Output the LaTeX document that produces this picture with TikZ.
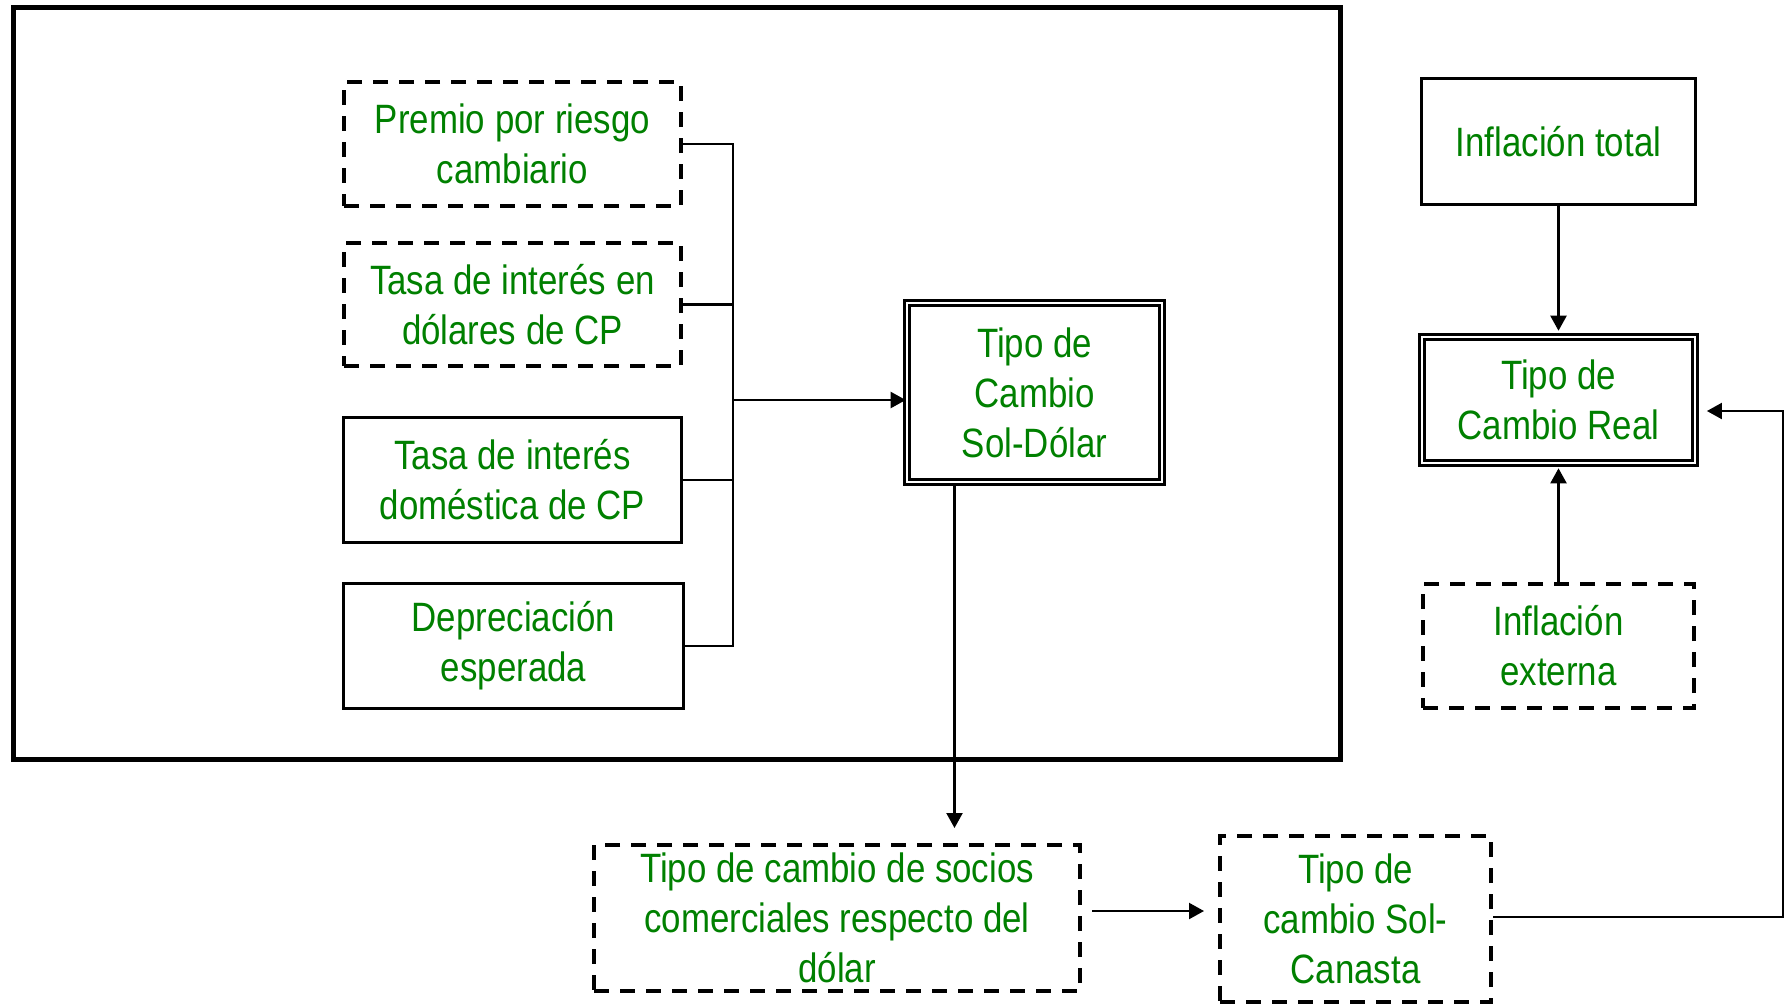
\documentclass[tikz,border=0pt]{standalone}
\usepackage{fontspec}
\setmainfont{Liberation Sans}[FakeStretch=0.85]
\usepackage{tikz}
\usetikzlibrary{calc,arrows.meta}
\definecolor{txtgreen}{RGB}{0,128,0}

\tikzset{
	box/.style={rectangle, align=center, text=txtgreen, inner sep=0pt,
		font=\fontsize{20.5}{25}\selectfont},
	solidbox/.style={box, draw, line width=1.5pt},
	dashbox/.style={box, draw, line width=2pt, dash pattern=on 7.5pt off 5.5pt},
	dblbox/.style={box, draw, double, line width=1.3pt, double distance=1.4pt},
	link/.style={line width=1.1pt},
	arr/.style={link, -{Triangle[length=7.5pt,width=8pt]}}
}

\begin{document}
\begin{tikzpicture}[x=0.5pt, y=-0.5pt]
				\useasboundingbox (0,0) rectangle (1784,1003);
				%big frame round the Sol-Dolar block
				\draw[line width=2.5pt] (13.5,7.5) rectangle (1340.5,759.5);

				%left column placed by hand
				\node[dashbox, minimum width=168.5pt, minimum height=62pt] (premio) at (512.5,144) {Premio por riesgo\\cambiario};
				\node[dashbox, minimum width=168.5pt, minimum height=61.5pt] (dolares) at (512.5,304.5) {Tasa de interés en\\dólares de CP};
				\node[solidbox, minimum width=169pt, minimum height=62.5pt] (domestica) at (512.5,480) {Tasa de interés\\doméstica de CP};
				\node[solidbox, minimum width=170pt, minimum height=62.5pt] (deprec) at (513.5,646) {Depreciación\\esperada};

				\node[dblbox, minimum width=127.5pt, minimum height=89.5pt] (soldolar) at (1034.5,392.5) {Tipo de\\Cambio\\Sol-Dólar};

				%bottom row
				\node[dashbox, minimum width=243pt, minimum height=73pt] (socios) at (837,918) {Tipo de cambio de socios\\comerciales respecto del\\dólar};
				\node[dashbox, minimum width=135.5pt, minimum height=83pt] (canasta) at (1355.5,919) {Tipo de\\cambio Sol-\\Canasta};

				%right column
				\node[solidbox, minimum width=137pt, minimum height=63pt] (inftotal) at (1558.5,141.5) {Inflación total};
				\node[dblbox, minimum width=136.5pt, minimum height=63pt] (real) at (1558.5,400) {Tipo de\\Cambio Real};
				\node[dashbox, minimum width=135.5pt, minimum height=62pt] (infext) at (1558.5,646) {Inflación\\externa};

				%% collecting bus on the left
				\coordinate (bus) at (733,400);
				\draw[link] (premio.east) -- (premio.east -| bus) -- (deprec.east -| bus) -- (deprec.east);
				\draw[link] (dolares.east) -- (dolares.east -| bus);
				\draw[link] (domestica.east) -- (domestica.east -| bus);
				\draw[arr] (bus) -- (bus -| soldolar.west);

				\coordinate (drop) at (954.5,0);
				\draw[arr, shorten >=7.5pt] (soldolar.south -| drop) -- (socios.north -| drop);
				\draw[arr, shorten <=5pt, shorten >=7pt] ($(socios.east)+(0,-7)$) -- ($(canasta.west)+(0,-8)$);

				\coordinate (rcorner) at (1783,411);
				\draw[arr, shorten >=5.3pt] ($(canasta.east)+(0,-2)$) -| (rcorner) -- (rcorner -| real.east);
				\draw[arr, shorten >=2.5pt] (inftotal.south) -- (real.north);
				\draw[arr, shorten >=2pt] (infext.north) -- (real.south);
\end{tikzpicture}
\end{document}
